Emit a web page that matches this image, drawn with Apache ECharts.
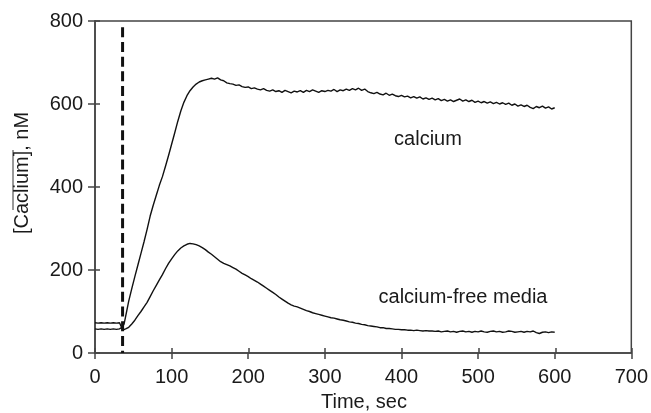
<!DOCTYPE html>
<html>
<head>
<meta charset="utf-8">
<script src="https://cdn.jsdelivr.net/npm/echarts@6/dist/echarts.min.js"></script>
<style>
  html, body { margin: 0; padding: 0; background: #fff; }
  #chart { width: 651px; height: 413px; }
</style>
</head>
<body>
<div id="chart"></div>
<script>
// Intracellular calcium traces (nM) against time (s)
const calciumTime = [0,4,8,12,16,20,24,28,32,34,35,36,38,40,44,48,52,56,60,64,68,72,76,80,84,88,92,96,100,104,108,112,116,120,124,128,132,136,140,144,148,152,156,160,164,168,172,176,180,184,188,192,196,200,204,208,212,216,220,224,228,232,236,240,244,248,252,256,260,264,268,272,276,280,284,288,292,296,300,304,308,312,316,320,324,328,332,336,340,344,348,352,356,360,364,368,372,376,380,384,388,392,396,400,404,408,412,416,420,424,428,432,436,440,444,448,452,456,460,464,468,472,476,480,484,488,492,496,500,504,508,512,516,520,524,528,532,536,540,544,548,552,556,560,564,568,572,576,580,584,588,592,596,600];
const calciumValues = [73,72,73,72,73,72,73,72,73,74,60,58,70,88,125,155,184,212,240,268,298,330,356,380,404,425,450,476,503,530,558,583,604,620,632,641,648,653,656,658,660,662,660,663,658,656,651,649,648,645,646,642,640,641,637,639,636,634,637,633,631,634,630,632,628,633,630,627,631,629,632,628,633,630,634,631,628,632,630,633,631,635,630,634,632,636,633,637,634,638,633,636,630,627,625,628,624,622,626,621,624,620,618,621,617,619,615,618,614,617,612,615,611,614,610,613,608,611,607,610,606,609,612,607,610,606,609,604,607,603,606,602,605,601,604,600,603,599,602,597,600,595,598,594,597,592,589,594,591,595,590,593,588,591];

const freeTime = [0,4,8,12,16,20,24,28,32,34,35,36,38,40,44,48,52,56,60,64,68,72,76,80,84,88,92,96,100,104,108,112,116,120,124,128,132,136,140,144,148,152,156,160,164,168,172,176,180,184,188,192,196,200,204,208,212,216,220,224,228,232,236,240,244,248,252,256,260,264,268,272,276,280,284,288,292,296,300,304,308,312,316,320,324,328,332,336,340,344,348,352,356,360,364,368,372,376,380,384,388,392,396,400,404,408,412,416,420,424,428,432,436,440,444,448,452,456,460,464,468,472,476,480,484,488,492,496,500,504,508,512,516,520,524,528,532,536,540,544,548,552,556,560,564,568,572,576,580,584,588,592,596,600];
const freeValues = [58,57,58,57,58,57,58,57,58,56,62,55,56,58,62,70,79,90,100,111,122,136,150,163,176,189,203,216,227,237,246,253,258,262,264,263,261,258,254,249,243,238,232,226,220,216,213,210,206,202,197,192,188,184,179,175,171,166,161,156,151,146,141,135,130,125,120,116,113,111,108,105,102,100,97,95,93,91,89,87,85,84,82,80,79,77,75,74,72,71,69,68,66,65,64,63,61,61,59,59,58,57,57,56,56,55,55,54,55,54,53,54,53,53,52,53,51,52,53,51,52,50,52,53,51,52,50,52,51,53,51,50,52,53,51,52,50,51,53,52,50,51,52,50,52,51,53,49,47,50,51,49,51,50,51];

// Time of addition (vertical dashed marker)
const additionTime = 36;
const markerRange = [785, 0];

const xTicks = { min: 0, max: 700, interval: 100 };
const yTicks = { min: 0, max: 800, interval: 200 };

const pair = (xs, ys) => xs.map((x, i) => [x, ys[i]]);

const axisColor = '#444';
const textColor = '#1a1a1a';
const font = 'Liberation Sans, Arial, sans-serif';

const gridBox = { left: 95, right: 19, top: 21, bottom: 60 };

const chart = echarts.init(document.getElementById('chart'), null, { renderer: 'canvas' });

const baseX = {
  type: 'value', min: xTicks.min, max: xTicks.max, interval: xTicks.interval,
  splitLine: { show: false }
};
const baseY = {
  type: 'value', min: yTicks.min, max: yTicks.max, interval: yTicks.interval,
  splitLine: { show: false }
};
const tickStyle = { color: axisColor, width: 1.5 };

chart.setOption({
  animation: false,
  backgroundColor: '#fff',
  grid: [
    Object.assign({ show: true, borderColor: axisColor, borderWidth: 1.5, backgroundColor: 'transparent' }, gridBox),
    // twin grid carrying the inner halves of the cross-shaped ticks
    Object.assign({ show: false }, gridBox)
  ],
  xAxis: [
    Object.assign({}, baseX, {
      gridIndex: 0, position: 'bottom',
      axisLine: { show: true, lineStyle: tickStyle },
      axisTick: { show: true, inside: false, length: 6, lineStyle: tickStyle },
      axisLabel: { margin: 14, fontSize: 20, fontFamily: font, color: textColor }
    }),
    Object.assign({}, baseX, {
      gridIndex: 1, position: 'bottom',
      axisLine: { show: false },
      axisTick: { show: true, inside: true, length: 5, lineStyle: tickStyle },
      axisLabel: { show: false }
    })
  ],
  yAxis: [
    Object.assign({}, baseY, {
      gridIndex: 0, position: 'left',
      axisLine: { show: true, lineStyle: tickStyle },
      axisTick: { show: true, inside: false, length: 7, lineStyle: tickStyle },
      axisLabel: { margin: 12, fontSize: 20, fontFamily: font, color: textColor }
    }),
    Object.assign({}, baseY, {
      gridIndex: 1, position: 'left',
      axisLine: { show: false },
      axisTick: { show: true, inside: true, length: 5, lineStyle: tickStyle },
      axisLabel: { show: false }
    })
  ],
  series: [
    {
      name: 'calcium', type: 'line', showSymbol: false, symbol: 'none',
      xAxisIndex: 0, yAxisIndex: 0,
      data: pair(calciumTime, calciumValues),
      lineStyle: { color: '#111', width: 1.4 }
    },
    {
      name: 'calcium-free media', type: 'line', showSymbol: false, symbol: 'none',
      xAxisIndex: 0, yAxisIndex: 0,
      data: pair(freeTime, freeValues),
      lineStyle: { color: '#111', width: 1.4 }
    },
    {
      name: 'addition', type: 'line', showSymbol: false, symbol: 'none',
      xAxisIndex: 0, yAxisIndex: 0,
      data: markerRange.map(v => [additionTime, v]),
      lineStyle: { color: '#111', width: 3, type: [10, 4.7], cap: 'butt' }
    }
  ],
  graphic: [
    {
      type: 'text', x: 364, y: 402,
      style: {
        text: 'Time, sec', x: 0, y: 0, align: 'center', verticalAlign: 'middle',
        font: '20px ' + font, fill: textColor
      }
    },
    {
      type: 'text', x: 22, y: 173, rotation: Math.PI / 2,
      style: {
        text: '[Caclium], nM', x: 0, y: 0, align: 'center', verticalAlign: 'middle',
        font: '20px ' + font, fill: textColor
      }
    },
    {
      type: 'line', shape: { x1: 13, y1: 150, x2: 13, y2: 210 },
      style: { stroke: '#333', lineWidth: 1 }
    },
    {
      type: 'text', x: 428, y: 139,
      style: {
        text: 'calcium', x: 0, y: 0, align: 'center', verticalAlign: 'middle',
        font: '20px ' + font, fill: textColor
      }
    },
    {
      type: 'text', x: 463, y: 297,
      style: {
        text: 'calcium-free media', x: 0, y: 0, align: 'center', verticalAlign: 'middle',
        font: '20px ' + font, fill: textColor
      }
    }
  ]
});
</script>
</body>
</html>
